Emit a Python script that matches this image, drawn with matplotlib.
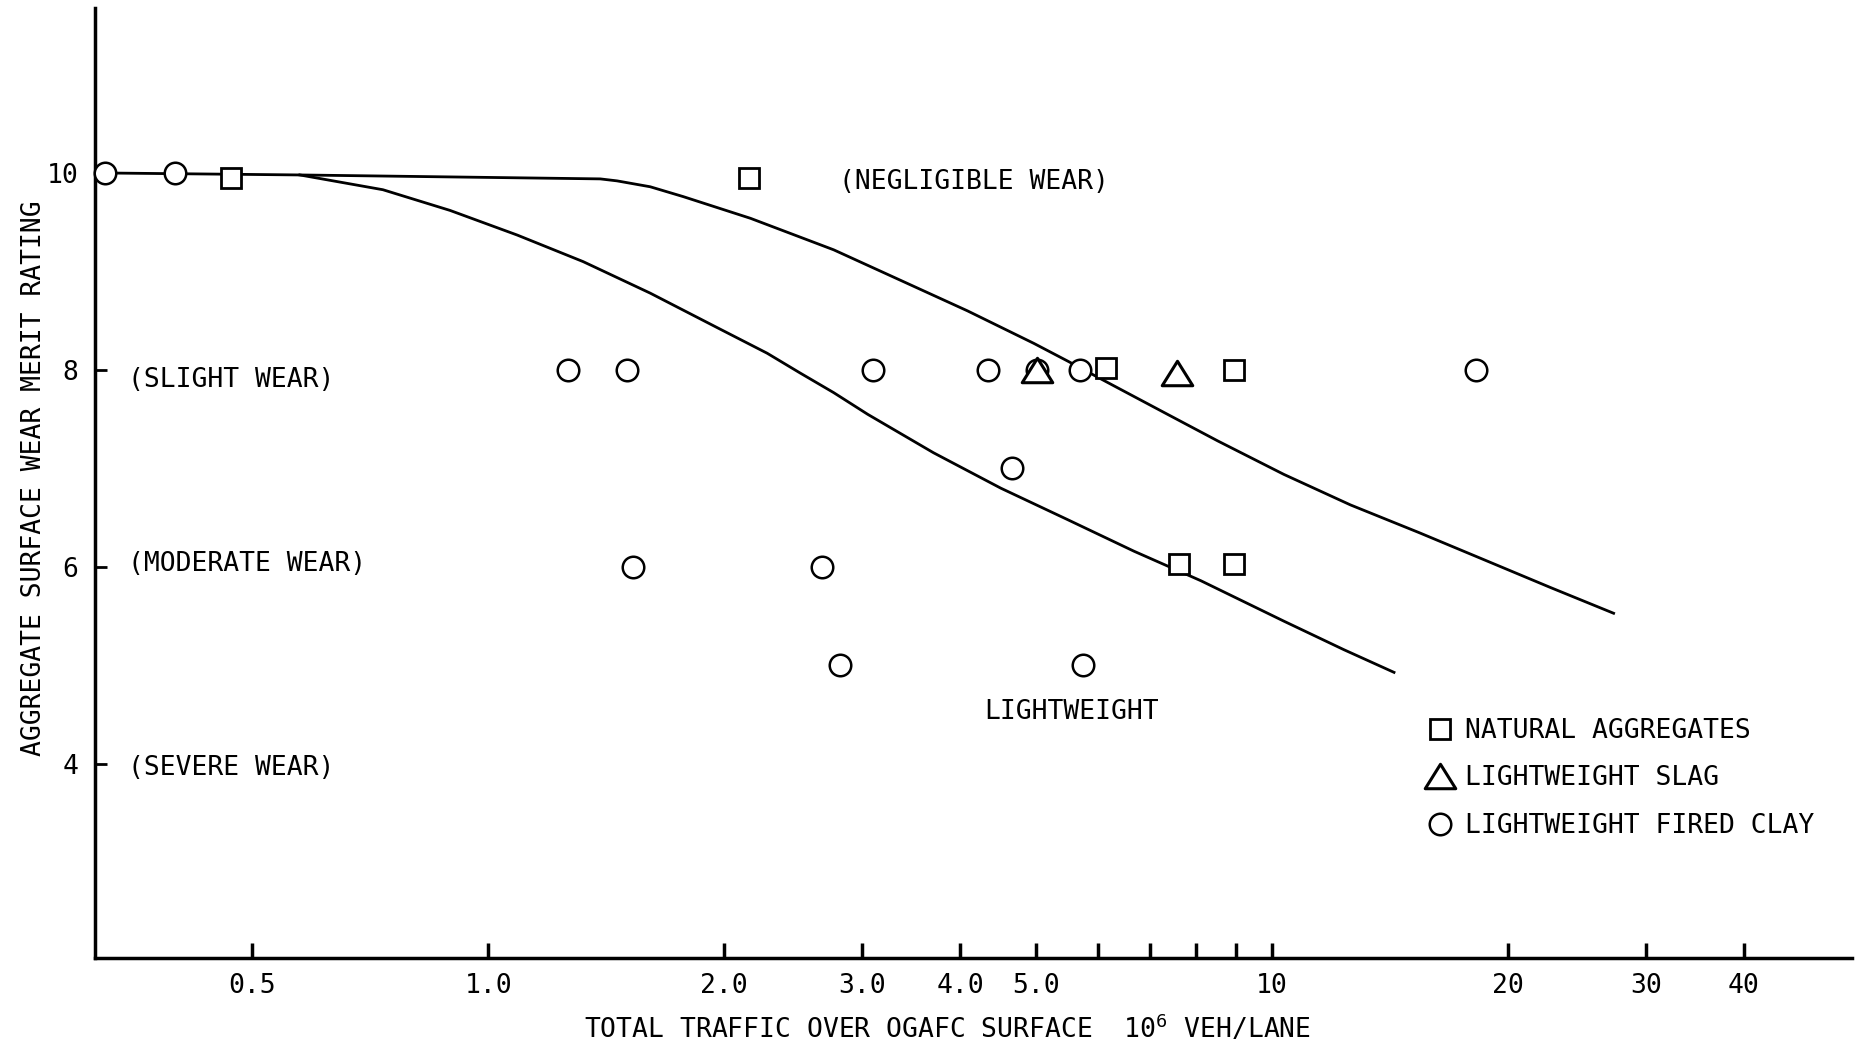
import numpy as np
import matplotlib.pyplot as plt
from matplotlib.path import Path

plt.rcParams['font.family'] = 'DejaVu Sans Mono'
plt.rcParams['mathtext.fontset'] = 'custom'
plt.rcParams['mathtext.rm'] = 'DejaVu Sans Mono'

# observed wear ratings, traffic in 10^6 veh/lane
natural_x = [0.47, 2.15, 6.14, 8.94, 7.61, 8.94]
natural_y = [9.95, 9.95, 8.02, 8.0, 6.03, 6.03]

slag_x = [5.02, 7.56]
slag_y = [8.0, 7.97]

clay_x = [0.324, 0.398, 1.265, 1.505, 3.10, 4.34, 5.02, 5.69, 18.2,
          4.66, 1.53, 2.67, 2.81, 5.74]
clay_y = [10, 10, 8, 8, 8, 8, 8, 8, 8, 7, 6, 6, 5, 5]

# hand-fitted wear curves
upper_x = [0.324, 0.575, 0.894, 1.39, 1.46, 1.61, 1.774, 2.161, 2.76, 3.36,
           4.09, 4.97, 5.49, 6.05, 7.36, 8.53, 10.36, 12.6, 15.4, 18.7,
           22.7, 27.3]
upper_y = [10.0, 9.98, 9.96, 9.94, 9.92, 9.86, 9.76, 9.54, 9.22, 8.91,
           8.60, 8.27, 8.09, 7.91, 7.55, 7.28, 6.94, 6.63, 6.35, 6.07,
           5.79, 5.53]

lower_x = [0.575, 0.734, 0.894, 1.089, 1.322, 1.61, 1.96, 2.27, 2.50, 2.76,
           3.05, 3.70, 4.51, 5.49, 6.67, 8.12, 10.36, 12.36, 14.32]
lower_y = [9.98, 9.83, 9.62, 9.37, 9.10, 8.78, 8.43, 8.17, 7.97, 7.77,
           7.55, 7.16, 6.80, 6.48, 6.16, 5.86, 5.45, 5.16, 4.93]

zone_text = ['(NEGLIGIBLE WEAR)', '(SLIGHT WEAR)', '(MODERATE WEAR)',
             '(SEVERE WEAR)', 'LIGHTWEIGHT']
zone_x = [2.80, 0.347, 0.347, 0.347, 4.29]
zone_y = [9.91, 7.90, 6.03, 3.96, 4.53]

x_ticks = [0.5, 1, 2, 3, 4, 5, 6, 7, 8, 9, 10, 20, 30, 40]
x_tick_labels = ['0.5', '1.0', '2.0', '3.0', '4.0', '5.0', '', '', '', '',
                 '10', '20', '30', '40']
y_ticks = [4, 6, 8, 10]

W, H = 1866, 1046
fig = plt.figure(figsize=(W / 100, H / 100), dpi=100)
ax = fig.add_axes([95 / W, 1 - 958 / H, (1852 - 95) / W, (958 - 8) / H])

ax.set_xscale('log')
ax.set_xlim(0.315, 55)
ax.set_ylim(2.03, 11.675)

ax.plot(upper_x, upper_y, color='black', lw=2.0, zorder=2)
ax.plot(lower_x, lower_y, color='black', lw=2.0, zorder=2)

# slightly flattened triangle
tri = Path([(-1, -0.8), (1, -0.8), (0, 0.8), (-1, -0.8)], closed=True)
mk = dict(linestyle='none', markerfacecolor='white', markeredgecolor='black',
          clip_on=False)
h_clay, = ax.plot(clay_x, clay_y, marker='o', markersize=15.5,
                  markeredgewidth=1.8, zorder=3,
                  label='LIGHTWEIGHT FIRED CLAY', **mk)
h_nat, = ax.plot(natural_x, natural_y, marker='s', markersize=15,
                 markeredgewidth=2.0, zorder=3,
                 label='NATURAL AGGREGATES', **mk)
h_slag, = ax.plot(slag_x, slag_y, marker=tri, markersize=22,
                  markeredgewidth=2.2, zorder=4,
                  label='LIGHTWEIGHT SLAG', **mk)

for t, x, y in zip(zone_text, zone_x, zone_y):
    ax.text(x, y, t, fontsize=19, ha='left', va='center')

ax.legend(handles=[h_nat, h_slag, h_clay], loc='upper left',
          bbox_to_anchor=(1427 / W, 1 - 718 / H), bbox_transform=fig.transFigure,
          frameon=False, fontsize=19, numpoints=1, borderpad=0,
          borderaxespad=0, handlelength=1.0, handletextpad=0.45,
          labelspacing=0.81)

for side in ['top', 'right']:
    ax.spines[side].set_visible(False)
for side in ['left', 'bottom']:
    ax.spines[side].set_linewidth(2.5)

ax.set_xticks(x_ticks)
ax.set_xticklabels(x_tick_labels)
ax.xaxis.set_minor_locator(plt.NullLocator())
ax.set_yticks(y_ticks)
ax.tick_params(axis='x', direction='in', length=11, width=2.5,
               labelsize=19, pad=10.5)
ax.tick_params(axis='y', direction='in', length=8.5, width=2.0,
               labelsize=19, pad=12)

ax.set_xlabel('TOTAL TRAFFIC OVER OGAFC SURFACE  $\\mathregular{10^{6}}$ VEH/LANE',
              fontsize=19, va='center')
ax.xaxis.set_label_coords(0.485, -0.074)
ax.set_ylabel('AGGREGATE SURFACE WEAR MERIT RATING', fontsize=19, va='center')
ax.yaxis.set_label_coords(-0.035, 0.505)

fig.savefig('out.png', dpi=100)
